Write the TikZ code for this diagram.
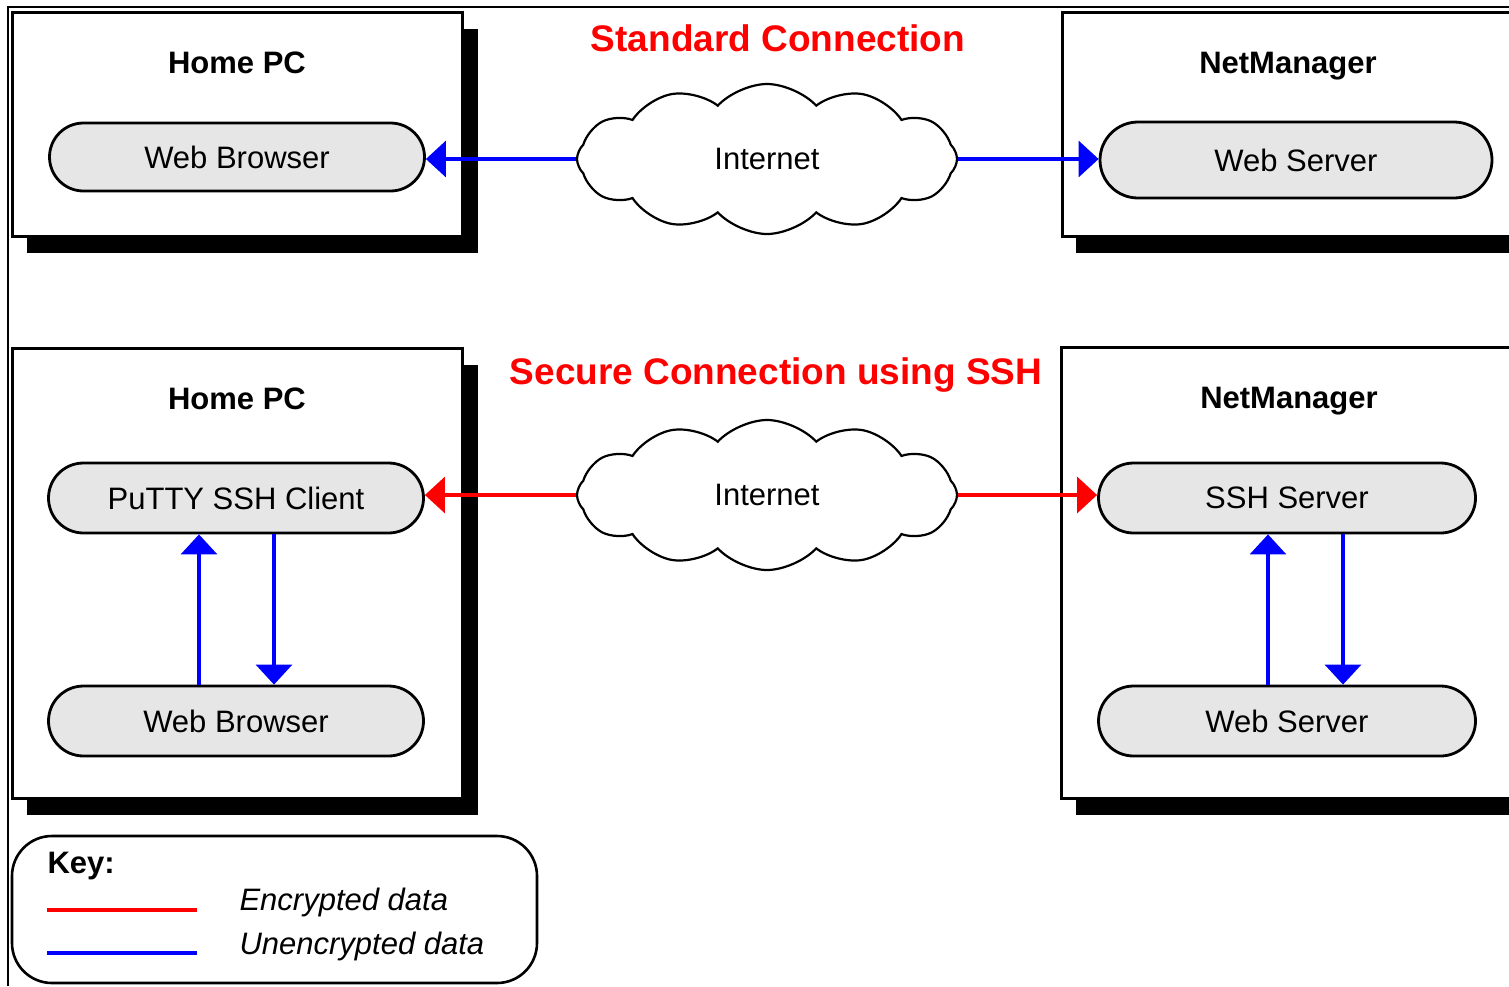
\documentclass[tikz,border=0pt]{standalone}
\usepackage{fontspec}
\setmainfont{Liberation Sans}
\usetikzlibrary{arrows.meta,shapes.misc,shapes.symbols}
\definecolor{pillgray}{RGB}{230,230,230}

\begin{document}
\begin{tikzpicture}[x=1pt,y=1pt,yscale=-1,xscale=1,
	pill/.style={draw, rounded rectangle, fill=pillgray, line width=2.8pt, minimum width=375pt, minimum height=70pt, inner sep=0pt, font=\fontsize{31}{36}\selectfont},
	netcloud/.style={draw, cloud, cloud puffs=12, cloud puff arc=95, cloud ignores aspect, line width=2.2pt, minimum width=380pt, minimum height=150pt, inner sep=0pt, fill=white, font=\fontsize{31}{36}\selectfont},
	boxtitle/.style={font=\fontsize{31}{36}\selectfont\bfseries},
	headline/.style={text=red, font=\fontsize{37}{44}\selectfont\bfseries},
	unenc/.style={blue, line width=3.2pt, -{Triangle[length=20pt,width=36pt]}},
	enc/.style={red, line width=3.2pt, -{Triangle[length=20pt,width=36pt]}}]
				\useasboundingbox (0,0) rectangle (1509,986);
				
				%Shape: Frame
				\draw  [line width=2.4pt] (8,986) -- (8,7) -- (1509,7) ;
				
				%Shape: Rectangle [Home PC, top]
				\fill  (27,29) rectangle (478,253) ;
				\draw  [line width=3pt, fill=white] (12,12) rectangle (462,236) ;
				%Shape: Rectangle [NetManager, top]
				\fill  (1076,29) rectangle (1545,253) ;
				\draw  [line width=3pt, fill=white] (1062,12) rectangle (1530,236) ;
				%Shape: Rectangle [Home PC, bottom]
				\fill  (27,365) rectangle (478,815) ;
				\draw  [line width=3pt, fill=white] (12,348) rectangle (462,798) ;
				%Shape: Rectangle [NetManager, bottom]
				\fill  (1076,365) rectangle (1545,815) ;
				\draw  [line width=3pt, fill=white] (1061,347) rectangle (1530,798) ;
				%Shape: Rounded Rectangle [Key]
				\draw  [line width=2.6pt, rounded corners=40pt] (12,836) rectangle (537,983) ;
				
				% Text Node
				\node [headline] (stdtitle) at (778,38) {Standard Connection};
				% Text Node
				\node [headline] (sshtitle) at (776,375) {Secure Connection using SSH};
				% Text Node
				\node [boxtitle] (home1) at (237,63) {Home PC};
				% Text Node
				\node [boxtitle] (mgr1) at (1288,66) {NetManager};
				% Text Node
				\node [boxtitle] (home2) at (237,399) {Home PC};
				% Text Node
				\node [boxtitle] (mgr2) at (1289,401) {NetManager};
				
				% Pill Nodes
				\node [pill, minimum height=68pt] (browser1) at (237,157) {Web Browser};
				\node [pill, minimum width=392pt, minimum height=76pt] (server1) at (1296,160) {Web Server};
				\node [pill] (putty) at (236,498) {PuTTY SSH Client};
				\node [pill] (browser2) at (236,721) {Web Browser};
				\node [pill, minimum width=377pt] (sshd) at (1287,498) {SSH Server};
				\node [pill, minimum width=377pt] (server2) at (1287,721) {Web Server};
				
				% Cloud Nodes
				\node [netcloud] (inet1) at (767,159) {Internet};
				\node [netcloud] (inet2) at (767,495) {Internet};
				
				% Connectors
				\draw [unenc] (inet1.west) -- (inet1.west -| browser1.east) ;
				\draw [unenc] (inet1.east) -- (inet1.east -| server1.west) ;
				\draw [enc] (inet2.west) -- (inet2.west -| putty.east) ;
				\draw [enc] (inet2.east) -- (inet2.east -| sshd.west) ;
				\draw [unenc] ([xshift=-37pt]browser2.north) -- ([xshift=-37pt]putty.south) ;
				\draw [unenc] ([xshift=38pt]putty.south) -- ([xshift=38pt]browser2.north) ;
				\draw [unenc] ([xshift=-19pt]server2.north) -- ([xshift=-19pt]sshd.south) ;
				\draw [unenc] ([xshift=56pt]sshd.south) -- ([xshift=56pt]server2.north) ;
				
				% Key
				\node [boxtitle, anchor=west] (keytitle) at (44,866) {Key:};
				\draw [red, line width=3.4pt] (47,910) -- (197,910) ;
				\draw [blue, line width=3.4pt] (47,953) -- (197,953) ;
				\node [anchor=west, font=\fontsize{31}{36}\selectfont\itshape] (enclabel) at (236,902) {Encrypted data};
				\node [anchor=west, font=\fontsize{31}{36}\selectfont\itshape] (unenclabel) at (236,946) {Unencrypted data};
				
\end{tikzpicture}
\end{document}
